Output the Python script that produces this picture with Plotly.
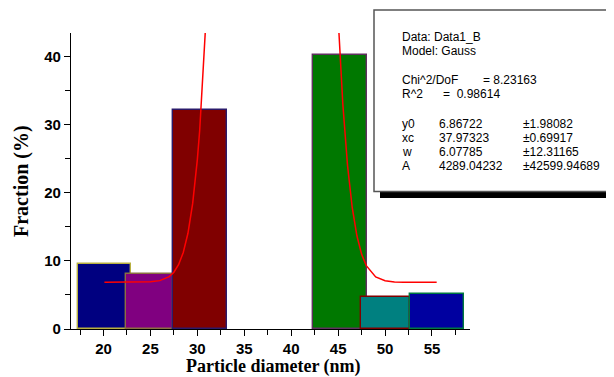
import plotly.graph_objects as go

# ---- data ----
bar_centers = [20.09, 24.90, 30.29, 45.16, 50.05, 55.54]
bar_widths = [5.68, 5.07, 5.69, 5.75, 5.22, 5.75]
bar_values = [9.6, 8.1, 32.2, 40.2, 4.7, 5.2]
bar_fill = ["#000080", "#800080", "#800000", "#007800", "#008080", "#0000A0"]
bar_edge = ["#B8B040", "#8A7040", "#2A1A6A", "#603060", "#800000", "#007840"]

# fitted Gauss curve (left and right visible parts)
fit_x_left = [20.1, 22, 24, 25, 26, 27, 27.5, 28, 28.5, 29, 29.5, 30, 30.25, 30.5, 30.75, 31]
fit_y_left = [6.87, 6.87, 6.88, 6.93, 7.11, 7.70, 8.35, 9.45, 11.24, 14.07, 18.42, 24.90, 29.18, 34.26, 40.29, 47.37]
fit_x_right = [45.0, 45.25, 45.5, 46, 46.5, 47, 47.5, 48, 49, 50, 51, 52, 53, 55.5]
fit_y_right = [45.74, 38.88, 33.07, 24.07, 17.86, 13.70, 11.00, 9.31, 7.65, 7.09, 6.92, 6.88, 6.87, 6.87]

x_ticks = [20, 25, 30, 35, 40, 45, 50, 55]
y_ticks = [0, 10, 20, 30, 40]
x_range = [16.54, 59.05]
y_range = [0, 43.5]

fit_labels = ["y0", "xc", "w", "A"]
fit_values = ["6.86722", "37.97323", "6.07785", "4289.04232"]
fit_errors = ["±1.98082", "±0.69917", "±12.31165", "±42599.94689"]

OFF = 8  # page body margin
W, H = 614 - OFF, 377 - OFF
L, R, T, B = 71 - OFF, 144, 33 - OFF, 48
PW, PH = W - L - R, H - T - B


def px(xp):  # screen pixel x -> paper
    return (xp - OFF - L) / PW


def py(yp):  # screen pixel y -> paper
    return (H - B - (yp - OFF)) / PH


fig = go.Figure()
fig.add_trace(go.Bar(
    x=bar_centers, y=bar_values, width=bar_widths,
    marker=dict(color=bar_fill, line=dict(color=bar_edge, width=1.4)),
    showlegend=False,
))
fig.add_trace(go.Scatter(
    x=fit_x_left + [None] + fit_x_right,
    y=fit_y_left + [None] + fit_y_right,
    mode="lines", line=dict(color="#FF0000", width=1.5),
    showlegend=False, connectgaps=False,
))

tickfont = dict(family="Liberation Sans, Arial", size=15, color="black", weight="bold")
titlefont = dict(family="Liberation Serif, Times New Roman", size=18, color="black", weight="bold")

fig.update_layout(
    width=W, height=H,
    margin=dict(l=L, r=R, t=T, b=B, pad=0, autoexpand=False),
    paper_bgcolor="white", plot_bgcolor="white",
    bargap=0,
    xaxis=dict(
        range=x_range, tickmode="array", tickvals=x_ticks, automargin=False,
        ticks="outside", ticklen=6, tickwidth=1, tickcolor="black",
        minor=dict(ticks="outside", ticklen=5, tickwidth=1, tickcolor="black", dtick=5, tick0=17.5),
        showline=True, linecolor="black", linewidth=1.2, mirror=False,
        showgrid=False, zeroline=False, tickfont=tickfont,
    ),
    yaxis=dict(
        range=y_range, tickmode="array", tickvals=y_ticks, automargin=False,
        ticks="outside", ticklen=6, tickwidth=1, tickcolor="black",
        minor=dict(ticks="outside", ticklen=5, tickwidth=1, tickcolor="black", dtick=10, tick0=5),
        showline=True, linecolor="black", linewidth=1.2, mirror=False,
        showgrid=False, zeroline=False, tickfont=tickfont,
    ),
)

# axis titles
fig.add_annotation(xref="paper", yref="paper", x=px(273), y=py(366), text="Particle diameter (nm)",
                   showarrow=False, xanchor="center", yanchor="middle", font=titlefont)
fig.add_annotation(xref="paper", yref="paper", x=px(21), y=py(181), text="Fraction (%)",
                   showarrow=False, xanchor="center", yanchor="middle", textangle=-90,
                   font=dict(titlefont, size=20))

# fit results box with shadow
fig.add_shape(type="rect", xref="paper", yref="paper",
              x0=px(380), x1=px(640), y0=py(198), y1=py(16),
              fillcolor="black", line=dict(width=0), layer="above")
fig.add_shape(type="rect", xref="paper", yref="paper",
              x0=px(374), x1=px(634), y0=py(191.5), y1=py(10),
              fillcolor="white", line=dict(color="#555555", width=1.5), layer="above")

boxfont = dict(family="Liberation Sans, Arial", size=12, color="black")


def txt(xp, yp, s):
    fig.add_annotation(xref="paper", yref="paper", x=px(xp), y=py(yp), text=s,
                       showarrow=False, xanchor="left", yanchor="middle", font=boxfont)


txt(400, 36.7, "Data: Data1_B")
txt(400, 50.7, "Model: Gauss")
txt(400, 80, "Chi^2/DoF")
txt(480.5, 80, "= 8.23163")
txt(400, 94, "R^2")
txt(440.5, 94, "=  0.98614")
rows_y = [124, 138, 152, 166]
for lab, val, err, yy in zip(fit_labels, fit_values, fit_errors, rows_y):
    txt(400, yy, lab)
    txt(436.5, yy, val)
    txt(521, yy, err)

fig.write_html("out.html")
